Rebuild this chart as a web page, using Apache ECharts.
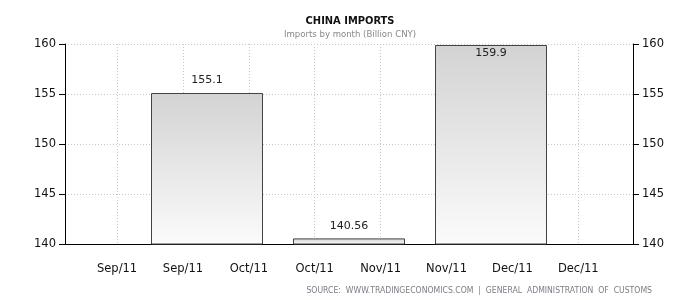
<!DOCTYPE html>
<html>
<head>
<meta charset="utf-8">
<script src="https://cdn.jsdelivr.net/npm/echarts@6/dist/echarts.min.js"></script>
<style>html,body{margin:0;padding:0;background:#fff}#c{width:700px;height:300px}</style>
</head>
<body>
<div id="c"></div>
<script>
// ---- data ----
const barCategories = ['Sep 2011', 'Oct 2011', 'Nov 2011'];
const importValues = [155.1, 140.56, 159.9];
const tickLabels = ['Sep/11', 'Sep/11', 'Oct/11', 'Oct/11', 'Nov/11', 'Nov/11', 'Dec/11', 'Dec/11'];

// ---- chart ----
const chart = echarts.init(document.getElementById('c'));
const yFont = { fontFamily: 'DejaVu Sans', fontSize: 11.5, color: '#111' };
const xFont = { fontFamily: 'DejaVu Sans', fontSize: 11.5, color: '#111' };
const catData = [''].concat(barCategories, ['']);
const yMax = 160;
const barData = ['-'].concat(importValues.map(v => (yMax - v < 1)
  ? { value: v, label: { position: 'insideTop', distance: 3 } } : v), ['-']);
const tickIdx = tickLabels.map((_, i) => i);

chart.setOption({
  animation: false,
  title: [
    { text: 'CHINA IMPORTS', left: 'center', top: 11,
      textStyle: { fontFamily: 'DejaVu Sans Condensed', fontWeight: 'bold', fontSize: 11, color: '#111' } },
    { text: 'Imports by month (Billion CNY)', left: 'center', top: 25,
      textStyle: { fontFamily: 'DejaVu Sans Condensed', fontWeight: 'normal', fontSize: 9.5, color: '#888' } },
    { text: 'SOURCE:  WWW.TRADINGECONOMICS.COM  |  GENERAL  ADMINISTRATION  OF  CUSTOMS', right: 43, top: 281,
      textStyle: { fontFamily: 'DejaVu Sans Condensed', fontWeight: 'normal', fontSize: 8.6, color: '#7c7c88' } }
  ],
  grid: { left: 65, right: 67, top: 44, bottom: 56, containLabel: false },
  xAxis: [
    { type: 'category', data: catData, boundaryGap: false, position: 'bottom',
      axisLine: { show: true, onZero: false, lineStyle: { color: '#000', width: 1 } },
      axisTick: { show: false }, axisLabel: { show: false }, splitLine: { show: false } },
    { type: 'value', position: 'bottom', min: -0.79, max: 7.83,
      axisLine: { show: false, onZero: false },
      axisTick: { show: false, customValues: tickIdx },
      axisLabel: { show: true, customValues: tickIdx, margin: 19, ...xFont,
        formatter: v => tickLabels[Math.round(v)] },
      splitLine: { show: true, lineStyle: { color: '#c8c8c8', type: [1, 2], width: 1 } } }
  ],
  yAxis: [
    { type: 'value', position: 'left', min: 140, max: yMax, interval: 5,
      axisLine: { show: true, onZero: false, lineStyle: { color: '#000', width: 1 } },
      axisTick: { show: true, length: 6, lineStyle: { color: '#000' } },
      axisLabel: { margin: 9, ...yFont },
      splitLine: { show: true, lineStyle: { color: '#c8c8c8', type: [1, 2], width: 1 } } },
    { type: 'value', position: 'right', min: 140, max: yMax, interval: 5,
      axisLine: { show: true, onZero: false, lineStyle: { color: '#000', width: 1 } },
      axisTick: { show: true, length: 6, lineStyle: { color: '#000' } },
      axisLabel: { margin: 9, ...yFont },
      splitLine: { show: false } }
  ],
  series: [{
    type: 'bar', xAxisIndex: 0, yAxisIndex: 0, data: barData, barWidth: 112,
    itemStyle: {
      borderColor: '#444', borderWidth: 1,
      color: new echarts.graphic.LinearGradient(0, 0, 0, 1, [
        { offset: 0, color: '#d3d3d3' }, { offset: 1, color: '#fbfbfb' }
      ])
    },
    label: {
      show: true, fontFamily: 'DejaVu Sans', fontSize: 11, color: '#222', distance: 7,
      position: 'top'
    }
  }]
});
</script>
</body>
</html>
